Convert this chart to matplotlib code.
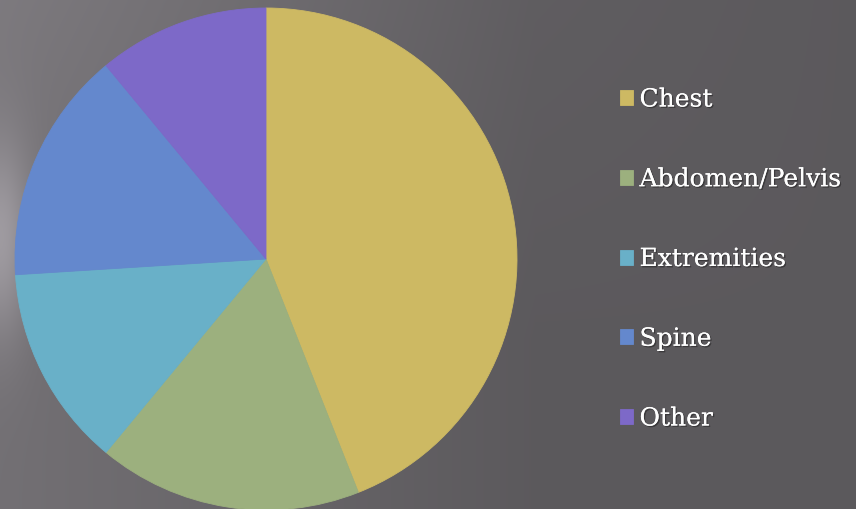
import numpy as np
import matplotlib; matplotlib.use("Agg"); import matplotlib.pyplot as plt
import matplotlib.patheffects as pe

# share of exams by body region (percent)
regions = ["Chest", "Abdomen/Pelvis", "Extremities", "Spine", "Other"]
shares = [44, 17, 13, 15, 11]
colors = ["#CDB963", "#9CB07E", "#69B0C8", "#6488CD", "#7D69C8"]

W, H = 856, 509
fig = plt.figure(figsize=(W / 100, H / 100), dpi=100)

# dark slide background: lighter on the left, soft glow at left edge
bg = fig.add_axes([0, 0, 1, 1]); bg.set_axis_off()
yy, xx = np.mgrid[0:H, 0:W] / np.array([H, W])[:, None, None]
base = 0.36 + 0.09 * np.clip(1 - xx * 1.6, 0, 1) + 0.04 * np.clip(1 - yy * 1.5, 0, 1) * np.clip(1 - xx, 0, 1)
glow = 0.16 * np.exp(-((xx * W) ** 2 / (2 * 22 ** 2) + ((yy * H - 240) ** 2) / (2 * 70 ** 2)))
lum = base + glow
img = np.dstack([lum, lum * 0.975, lum * 1.01])
bg.imshow(np.clip(img, 0, 1), aspect="auto", extent=[0, 1, 0, 1])

# pie, centre (266,259) px, radius 251 px
cx, cy, r = 266, H - 259, 251
ax = fig.add_axes([(cx - r) / W, (cy - r) / H, 2 * r / W, 2 * r / H])
wedges, _ = ax.pie(shares, colors=colors, startangle=90, counterclock=False,
                   wedgeprops=dict(linewidth=0))
for w, c in zip(wedges, colors):
    w.set_edgecolor(c); w.set_linewidth(0.6)
ax.set_xlim(-1, 1); ax.set_ylim(-1, 1); ax.set_aspect("auto"); ax.set_axis_off()

leg = fig.legend(wedges, regions, loc="upper left", bbox_to_anchor=(607 / W, 1 - 76 / H),
                 frameon=False, prop={"family": "DejaVu Serif", "size": 18},
                 handlelength=0.55, handleheight=0.55, handletextpad=0.25,
                 labelspacing=2.27, borderpad=0)
for t in leg.get_texts():
    t.set_color("white")
    t.set_path_effects([pe.withSimplePatchShadow(offset=(1, -1), shadow_rgbFace="black", alpha=0.35), pe.Normal()])

fig.savefig("out.png", dpi=100)
